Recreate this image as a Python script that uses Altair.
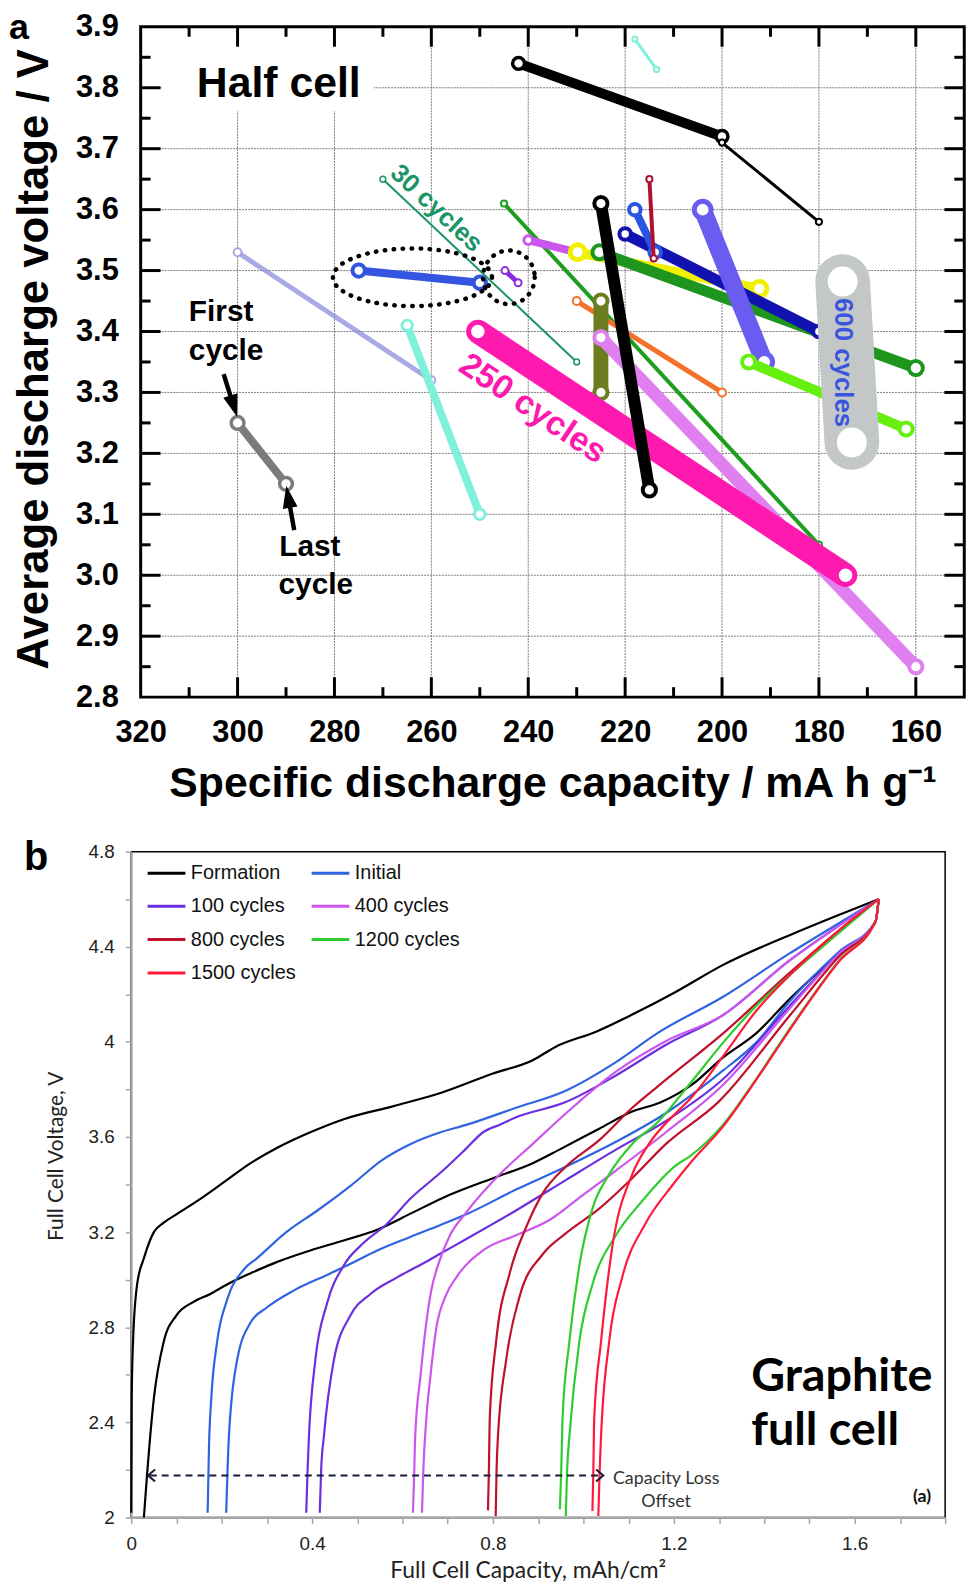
import math
import altair as alt
import pandas as pd

# ====================== Panel a : half cell ======================
SERIES_A = ["gray", "periwinkle", "aqua", "teal", "green_thin", "orange", "olive",
            "violet", "magenta", "orchid", "yellow", "green_thick", "navy", "blue_mid",
            "dark_red", "slate", "chartreuse", "black_drop", "black_top", "black_tail",
            "cyan_top", "blue_pair", "purple_pair"]
CAP_FIRST = [300, 300, 265, 270, 245, 230, 225, 225, 250.4, 240, 229.8, 225.3, 220, 218,
             215, 204, 194.5, 225, 242, 200, 218, 275, 244.8]
VOLT_FIRST = [3.25, 3.53, 3.41, 3.65, 3.61, 3.45, 3.45, 3.39, 3.40, 3.55, 3.53, 3.53, 3.56, 3.60,
              3.65, 3.60, 3.35, 3.61, 3.84, 3.71, 3.88, 3.50, 3.50]
CAP_LAST = [290, 260, 250, 230, 180, 200, 225, 160, 174.5, 230, 192.3, 160, 180, 213.8,
            214.1, 191.3, 162, 215, 200, 180, 213.5, 250, 242.1]
VOLT_LAST = [3.15, 3.32, 3.10, 3.35, 3.05, 3.30, 3.30, 2.85, 3.00, 3.53, 3.47, 3.34, 3.40, 3.53,
             3.52, 3.35, 3.24, 3.14, 3.72, 3.58, 3.83, 3.48, 3.48]

X_RANGE_A = [320, 150]
Y_RANGE_A = [3.9, 2.8]
X_LABELS_A = [320, 300, 280, 260, 240, 220, 200, 180, 160]
Y_LABELS_A = [3.9, 3.8, 3.7, 3.6, 3.5, 3.4, 3.3, 3.2, 3.1, 3.0, 2.9, 2.8]
X_MAJOR_A = [300, 280, 260, 240, 220, 200, 180, 160]
X_MINOR_A = [310, 290, 270, 250, 230, 210, 190, 170]
Y_MAJOR_A = [3.8, 3.7, 3.6, 3.5, 3.4, 3.3, 3.2, 3.1, 3.0, 2.9]
Y_MINOR_A = [3.85, 3.75, 3.65, 3.55, 3.45, 3.35, 3.25, 3.15, 3.05, 2.95, 2.85]

HALF_BOX_CAP = [315.6, 271.9]
HALF_BOX_VOLT = [3.871, 3.761]
PILL_CAP = [175.1, 173.2]
PILL_VOLT = [3.482, 3.218]
ELLIPSE_CAP = [263.9, 244.0]
ELLIPSE_VOLT = [3.489, 3.489]

LABEL_A_TEXT = ["Half cell", "30 cycles", "250 cycles", "600 cycles", "First", "cycle", "Last", "cycle"]
LABEL_A_CAP = [308.4, 258.97, 239.1, 175.1, 310.05, 310.05, 291.4, 291.55]
LABEL_A_VOLT = [3.785, 3.602, 3.273, 3.349, 3.418, 3.354, 3.031, 2.970]

ARROW_TAIL_CAP = [302.87, 288.31]
ARROW_TAIL_VOLT = [3.330, 3.074]
ARROW_NECK_CAP = [300.84, 289.52]
ARROW_NECK_VOLT = [3.278, 3.128]
ARROW_TIP_CAP = [300.1, 289.95]
ARROW_TIP_VOLT = [3.260, 3.147]

# styles: colour, line width, marker outer radius, marker stroke width, opacity
STYLE_A = {
    "gray": ("#7b7b7b", 8, 9, 3.5, 1),
    "periwinkle": ("#8c8cdc", 5, 5.5, 2, 0.75),
    "aqua": ("#7ff0da", 8, 7.5, 3, 1),
    "teal": ("#1a9468", 2, 4, 1.5, 1),
    "green_thin": ("#1e9e1e", 4, 4.5, 2, 1),
    "orange": ("#f5702a", 5, 5.5, 2, 1),
    "olive": ("#6b7d1e", 15, 9.5, 4, 1),
    "violet": ("#e07ff0", 13, 9.5, 4, 1),
    "magenta": ("#ff1aaf", 24, 13, 5, 1),
    "orchid": ("#cc55ee", 8, 6.5, 3, 1),
    "yellow": ("#f0f000", 10, 11, 5, 1),
    "green_thick": ("#1e961e", 11, 10, 4, 1),
    "navy": ("#1212b0", 11, 8.5, 4, 1),
    "blue_mid": ("#2a55e0", 8, 8.5, 4, 1),
    "dark_red": ("#b01030", 4, 4.5, 2, 1),
    "slate": ("#6a5cf0", 18, 12, 5, 1),
    "chartreuse": ("#66f010", 10, 9.5, 4, 1),
    "black_drop": ("#000000", 12, 9.5, 4, 1),
    "black_top": ("#000000", 10, 8.5, 3.5, 1),
    "black_tail": ("#000000", 3, 4.5, 2, 1),
    "cyan_top": ("#80f0d8", 3, 4, 2, 1),
    "blue_pair": ("#3355e0", 8, 9, 4, 1),
    "purple_pair": ("#8a2be2", 5, 5, 2, 1),
}

# panel a scale: 4.875 px per unit; the plot origin is shared with panel b, so the
# domain starts a little before 320 and the frame is drawn from 320.
PX_PER_UNIT = 4.875
LEFT_OFF = 9.5
X_START = X_RANGE_A[0] + LEFT_OFF / PX_PER_UNIT
W_A = (X_START - X_RANGE_A[1]) * PX_PER_UNIT
H_A = 674.5
XS_A = alt.Scale(domain=[X_START, X_RANGE_A[1]], nice=False, zero=False)
YS_A = alt.Scale(domain=[Y_RANGE_A[1], Y_RANGE_A[0]], nice=False, zero=False)
FONT = "Liberation Sans"
GRID = dict(color="#7d7d7d", strokeWidth=1, strokeDash=[2, 1])

AXIS_X_A = alt.Axis(values=X_LABELS_A, format="d", grid=False, ticks=False, tickSize=0, domain=False,
                    labelFont=FONT, labelFontWeight="bold", labelFontSize=31, labelColor="black",
                    labelPadding=21, labelFlush=False, labelOverlap=False,
                    title="Specific discharge capacity / mA h g\u207b\u00b9", titleFont=FONT,
                    titleFontWeight="bold", titleFontSize=43, titleColor="black",
                    titleBaseline="alphabetic", titleX=W_A / 2 + LEFT_OFF / 2, titleY=100)
AXIS_Y_A = alt.Axis(values=Y_LABELS_A, format=".1f", grid=False, ticks=False, tickSize=0, domain=False,
                    labelFont=FONT, labelFontWeight="bold", labelFontSize=31, labelColor="black",
                    labelPadding=13, labelOverlap=False, title="Average discharge voltage / V",
                    titleFont=FONT, titleFontWeight="bold", titleFontSize=44, titleColor="black",
                    titleAngle=270, titleBaseline="alphabetic", titleX=-84, titleY=334)


def XA(f):
    return alt.X(f + ":Q", scale=XS_A, axis=AXIS_X_A)


def YA(f):
    return alt.Y(f + ":Q", scale=YS_A, axis=AXIS_Y_A)


one = pd.DataFrame({"k": [0]})
layers_a = []

# dotted grid
vg = pd.DataFrame({"v": X_MAJOR_A})
layers_a.append(alt.Chart(vg).mark_rule(**GRID).encode(x=XA("v"), y=alt.value(0), y2=alt.value(H_A)))
hg = pd.DataFrame({"v": Y_MAJOR_A, "x1": X_RANGE_A[0], "x2": X_RANGE_A[1]})
layers_a.append(alt.Chart(hg).mark_rule(**GRID).encode(y=YA("v"), x=XA("x1"), x2="x2:Q"))

box = pd.DataFrame({"x1": [HALF_BOX_CAP[0]], "x2": [HALF_BOX_CAP[1]],
                    "y1": [HALF_BOX_VOLT[0]], "y2": [HALF_BOX_VOLT[1]]})
layers_a.append(alt.Chart(box).mark_rect(fill="white").encode(
    x=XA("x1"), x2="x2:Q", y=YA("y1"), y2="y2:Q"))

rows = []
for s, c0, v0, c1, v1 in zip(SERIES_A, CAP_FIRST, VOLT_FIRST, CAP_LAST, VOLT_LAST):
    rows.append({"series": s, "k": 0, "cap": c0, "volt": v0})
    rows.append({"series": s, "k": 1, "cap": c1, "volt": v1})
seg = pd.DataFrame(rows)
base_seg = alt.Chart(seg)
for s in SERIES_A:
    color, lw, R, sw, op = STYLE_A[s]
    sub = base_seg.transform_filter(alt.datum.series == s)
    layers_a.append(sub.mark_line(color=color, strokeWidth=lw, opacity=op).encode(
        x=XA("cap"), y=YA("volt"), order="k:Q"))
    r = R - sw / 2.0
    layers_a.append(sub.mark_point(shape="circle", filled=True, fill="white", stroke=color,
                                   strokeWidth=sw, size=math.pi * r * r, opacity=1,
                                   strokeOpacity=op).encode(x=XA("cap"), y=YA("volt")))

# grey "600 cycles" capsule
pill = pd.DataFrame({"k": [0, 1], "cap": PILL_CAP, "volt": PILL_VOLT})
layers_a.append(alt.Chart(pill).mark_line(color="#c3c7c7", strokeWidth=55, strokeCap="round").encode(
    x=XA("cap"), y=YA("volt"), order="k:Q"))
layers_a.append(alt.Chart(pill).mark_point(shape="circle", filled=True, fill="white", strokeWidth=0,
                                           size=math.pi * 17 * 17, opacity=1).encode(
    x=XA("cap"), y=YA("volt")))


def ellipse_path(b):
    k = 0.5523
    return ("M1,0 C1,{kb:.4f} {k:.4f},{b:.4f} 0,{b:.4f} C{nk:.4f},{b:.4f} -1,{kb:.4f} -1,0 "
            "C-1,{nkb:.4f} {nk:.4f},{nb:.4f} 0,{nb:.4f} C{k:.4f},{nb:.4f} 1,{nkb:.4f} 1,0 Z").format(
        k=k, nk=-k, b=b, nb=-b, kb=k * b, nkb=-k * b)


ell = pd.DataFrame({"cap": ELLIPSE_CAP, "volt": ELLIPSE_VOLT, "i": [0, 1]})
for i, (hw, hh) in enumerate([(80, 29), (26, 27)]):
    layers_a.append(alt.Chart(ell).transform_filter(alt.datum.i == i).mark_point(
        shape=ellipse_path(hh / hw), filled=False, stroke="black", strokeWidth=4.5,
        strokeDash=[0.5, 8.5], strokeCap="round", size=(2 * hw) ** 2, opacity=1).encode(
        x=XA("cap"), y=YA("volt")))

# annotation texts
lab = pd.DataFrame({"t": LABEL_A_TEXT, "cap": LABEL_A_CAP, "volt": LABEL_A_VOLT,
                    "i": list(range(len(LABEL_A_TEXT)))})
TEXT_STYLE_A = [
    dict(fontSize=43, color="black", align="left", baseline="alphabetic"),
    dict(fontSize=26, color="#1a9468", angle=43),
    dict(fontSize=34, color="#ff1aaf", angle=34),
    dict(fontSize=26, color="#3a55dd", angle=90),
    dict(fontSize=30, color="black", align="left", baseline="alphabetic"),
    dict(fontSize=30, color="black", align="left", baseline="alphabetic"),
    dict(fontSize=30, color="black", align="left", baseline="alphabetic"),
    dict(fontSize=30, color="black", align="left", baseline="alphabetic"),
]
for i, st in enumerate(TEXT_STYLE_A):
    layers_a.append(alt.Chart(lab).transform_filter(alt.datum.i == i).mark_text(
        font=FONT, fontWeight="bold", **st).encode(x=XA("cap"), y=YA("volt"), text="t:N"))

# arrows to first / last cycle
arr = pd.DataFrame({"c0": ARROW_TAIL_CAP, "v0": ARROW_TAIL_VOLT, "c1": ARROW_NECK_CAP,
                    "v1": ARROW_NECK_VOLT, "ct": ARROW_TIP_CAP, "vt": ARROW_TIP_VOLT, "i": [0, 1]})
layers_a.append(alt.Chart(arr).mark_rule(color="black", strokeWidth=4.5).encode(
    x=XA("c0"), y=YA("v0"), x2="c1:Q", y2="v1:Q"))
for i, ang in enumerate([162.6, 349.9]):
    layers_a.append(alt.Chart(arr).transform_filter(alt.datum.i == i).mark_point(
        shape="M0,0 L0.5,1.5 L-0.5,1.5 Z", filled=True, fill="black", strokeWidth=0,
        size=900, angle=ang, opacity=1).encode(x=XA("ct"), y=YA("vt")))

# inward ticks on all four sides
for vals, ln in [(X_MAJOR_A, 20), (X_MINOR_A, 10)]:
    d = pd.DataFrame({"v": vals})
    layers_a.append(alt.Chart(d).mark_rule(color="black", strokeWidth=3).encode(
        x=XA("v"), y=alt.value(H_A), y2=alt.value(H_A - ln)))
    layers_a.append(alt.Chart(d).mark_rule(color="black", strokeWidth=3).encode(
        x=XA("v"), y=alt.value(0), y2=alt.value(ln)))
for vals, ln in [(Y_MAJOR_A, 20), (Y_MINOR_A, 10)]:
    d = pd.DataFrame({"v": vals})
    layers_a.append(alt.Chart(d).mark_rule(color="black", strokeWidth=3).encode(
        y=YA("v"), x=alt.value(LEFT_OFF), x2=alt.value(LEFT_OFF + ln)))
    layers_a.append(alt.Chart(d).mark_rule(color="black", strokeWidth=3).encode(
        y=YA("v"), x=alt.value(W_A), x2=alt.value(W_A - ln)))

frame = pd.DataFrame({"x1": [X_RANGE_A[0]], "x2": [X_RANGE_A[1]], "y1": [Y_RANGE_A[0]], "y2": [Y_RANGE_A[1]]})
layers_a.append(alt.Chart(frame).mark_rect(fillOpacity=0, stroke="black", strokeWidth=3).encode(
    x=XA("x1"), x2="x2:Q", y=YA("y1"), y2="y2:Q"))
layers_a.append(alt.Chart(one).mark_text(text="a", font=FONT, fontWeight="bold", fontSize=36,
                                         align="left", baseline="alphabetic", color="black").encode(
    x=alt.value(-123), y=alt.value(12.5)))

panel_a = alt.layer(*layers_a).properties(width=W_A, height=H_A,
                                          view=alt.ViewBackground(stroke="transparent"))

# ====================== Panel b : graphite full cell ======================
SERIES_B = ["Formation", "Initial", "100 cycles", "400 cycles", "800 cycles", "1200 cycles", "1500 cycles"]
COLORS_B = ["#000000", "#2f64e0", "#6a2fe0", "#cc55ee", "#c0102a", "#2ecc2e", "#ff1a3a"]

FORM_UP_CAP = [0.000, 0.001, 0.004, 0.013, 0.028, 0.050, 0.072, 0.100, 0.153, 0.205, 0.264, 0.323,
               0.396, 0.470, 0.580, 0.684, 0.800, 0.888, 0.939, 1.028, 1.108, 1.204, 1.309, 1.456,
               1.566, 1.653]
FORM_UP_V = [2.02, 2.50, 2.74, 2.98, 3.09, 3.20, 3.24, 3.275, 3.34, 3.41, 3.49, 3.555, 3.62, 3.675,
             3.73, 3.785, 3.867, 3.923, 3.98, 4.043, 4.115, 4.21, 4.324, 4.449, 4.535, 4.60]
FORM_LO_CAP = [0.028, 0.035, 0.050, 0.072, 0.100, 0.138, 0.175, 0.212, 0.264, 0.323, 0.396, 0.470,
               0.544, 0.620, 0.690, 0.800, 0.888, 0.947, 1.035, 1.108, 1.170, 1.240, 1.309, 1.382,
               1.456, 1.566, 1.646, 1.653]
FORM_LO_V = [2.00, 2.18, 2.50, 2.74, 2.85, 2.907, 2.94, 2.98, 3.027, 3.075, 3.123, 3.165, 3.21, 3.28,
             3.345, 3.427, 3.49, 3.547, 3.635, 3.707, 3.745, 3.82, 3.935, 4.036, 4.18, 4.372, 4.506, 4.60]
INIT_UP_CAP = [0.169, 0.172, 0.177, 0.190, 0.212, 0.249, 0.278, 0.345, 0.411, 0.485, 0.558, 0.617,
               0.684, 0.741, 0.851, 0.961, 1.072, 1.163, 1.309, 1.456, 1.566, 1.653]
INIT_UP_V = [2.02, 2.30, 2.50, 2.74, 2.915, 3.043, 3.09, 3.203, 3.29, 3.395, 3.507, 3.57, 3.62, 3.651,
             3.723, 3.795, 3.915, 4.036, 4.19, 4.372, 4.50, 4.60]
INIT_LO_CAP = [0.210, 0.213, 0.216, 0.234, 0.264, 0.300, 0.360, 0.433, 0.485, 0.544, 0.617, 0.684,
               0.741, 0.851, 0.961, 1.072, 1.182, 1.309, 1.382, 1.456, 1.566, 1.646, 1.653]
INIT_LO_V = [2.02, 2.20, 2.34, 2.66, 2.82, 2.883, 2.955, 3.02, 3.067, 3.123, 3.18, 3.23, 3.275, 3.379,
             3.475, 3.58, 3.70, 3.88, 3.997, 4.17, 4.38, 4.506, 4.60]
C100_UP_CAP = [0.387, 0.390, 0.393, 0.407, 0.433, 0.470, 0.514, 0.566, 0.617, 0.690, 0.740, 0.778,
               0.815, 0.851, 0.961, 1.072, 1.182, 1.309, 1.456, 1.566, 1.653]
C100_UP_V = [2.02, 2.20, 2.34, 2.66, 2.90, 3.06, 3.155, 3.235, 3.34, 3.46, 3.55, 3.62, 3.652, 3.683,
             3.747, 3.859, 3.987, 4.113, 4.343, 4.49, 4.60]
C100_LO_CAP = [0.417, 0.420, 0.426, 0.448, 0.485, 0.529, 0.588, 0.647, 0.684, 0.741, 0.851, 0.961,
               1.072, 1.182, 1.309, 1.456, 1.566, 1.646, 1.653]
C100_LO_V = [2.02, 2.20, 2.34, 2.66, 2.85, 2.94, 3.01, 3.07, 3.11, 3.171, 3.291, 3.419, 3.547, 3.667,
             3.844, 4.151, 4.372, 4.506, 4.60]
C400_UP_CAP = [0.623, 0.626, 0.628, 0.640, 0.650, 0.663, 0.680, 0.705, 0.741, 0.815, 0.888, 0.961,
               1.072, 1.182, 1.309, 1.456, 1.566, 1.653]
C400_UP_V = [2.02, 2.20, 2.34, 2.60, 2.78, 2.95, 3.07, 3.187, 3.283, 3.443, 3.571, 3.699, 3.875, 4.003,
             4.113, 4.343, 4.49, 4.60]
C400_LO_CAP = [0.643, 0.646, 0.652, 0.662, 0.675, 0.695, 0.719, 0.778, 0.851, 0.925, 0.998, 1.072,
               1.182, 1.309, 1.456, 1.566, 1.646, 1.653]
C400_LO_V = [2.02, 2.20, 2.40, 2.60, 2.80, 2.93, 3.01, 3.123, 3.187, 3.251, 3.355, 3.459, 3.619, 3.82,
             4.14, 4.372, 4.506, 4.60]
C800_UP_CAP = [0.789, 0.791, 0.793, 0.807, 0.837, 0.873, 0.910, 0.961, 1.035, 1.108, 1.182, 1.309,
               1.456, 1.566, 1.653]
C800_UP_V = [2.03, 2.20, 2.42, 2.74, 3.027, 3.219, 3.363, 3.475, 3.587, 3.723, 3.84, 4.036, 4.29, 4.47, 4.60]
C800_LO_CAP = [0.806, 0.808, 0.811, 0.829, 0.859, 0.910, 0.961, 1.035, 1.108, 1.182, 1.300, 1.456,
               1.566, 1.646, 1.653]
C800_LO_V = [2.006, 2.20, 2.34, 2.66, 2.93, 3.107, 3.195, 3.299, 3.427, 3.57, 3.75, 4.11, 4.36, 4.506, 4.60]
C1200_UP_CAP = [0.948, 0.951, 0.954, 0.969, 0.991, 1.020, 1.057, 1.108, 1.163, 1.236, 1.309, 1.382,
                1.456, 1.566, 1.653]
C1200_UP_V = [2.035, 2.20, 2.42, 2.74, 3.059, 3.299, 3.443, 3.571, 3.66, 3.825, 3.997, 4.151, 4.28, 4.46, 4.60]
C1200_LO_CAP = [0.961, 0.964, 0.969, 0.991, 1.020, 1.072, 1.130, 1.204, 1.236, 1.309, 1.382, 1.456,
                1.566, 1.646, 1.653]
C1200_LO_V = [2.006, 2.20, 2.34, 2.74, 2.98, 3.187, 3.331, 3.48, 3.52, 3.652, 3.844, 4.055, 4.343, 4.506, 4.60]
C1500_UP_CAP = [1.020, 1.022, 1.024, 1.039, 1.064, 1.108, 1.145, 1.204, 1.236, 1.309, 1.382, 1.456,
                1.566, 1.653]
C1500_UP_V = [2.027, 2.20, 2.42, 2.74, 3.139, 3.443, 3.571, 3.70, 3.76, 3.94, 4.13, 4.28, 4.47, 4.60]
C1500_LO_CAP = [1.033, 1.036, 1.039, 1.057, 1.086, 1.137, 1.196, 1.236, 1.309, 1.382, 1.456, 1.566,
                1.646, 1.653]
C1500_LO_V = [2.006, 2.20, 2.34, 2.74, 3.011, 3.235, 3.395, 3.49, 3.645, 3.84, 4.05, 4.34, 4.506, 4.60]

CURVES_B = [
    ("Formation", "up", FORM_UP_CAP, FORM_UP_V), ("Formation", "lo", FORM_LO_CAP, FORM_LO_V),
    ("Initial", "up", INIT_UP_CAP, INIT_UP_V), ("Initial", "lo", INIT_LO_CAP, INIT_LO_V),
    ("100 cycles", "up", C100_UP_CAP, C100_UP_V), ("100 cycles", "lo", C100_LO_CAP, C100_LO_V),
    ("400 cycles", "up", C400_UP_CAP, C400_UP_V), ("400 cycles", "lo", C400_LO_CAP, C400_LO_V),
    ("800 cycles", "up", C800_UP_CAP, C800_UP_V), ("800 cycles", "lo", C800_LO_CAP, C800_LO_V),
    ("1200 cycles", "up", C1200_UP_CAP, C1200_UP_V), ("1200 cycles", "lo", C1200_LO_CAP, C1200_LO_V),
    ("1500 cycles", "up", C1500_UP_CAP, C1500_UP_V), ("1500 cycles", "lo", C1500_LO_CAP, C1500_LO_V),
]

X_TICKS_B = [0, 0.1, 0.2, 0.3, 0.4, 0.5, 0.6, 0.7, 0.8, 0.9, 1.0, 1.1, 1.2, 1.3, 1.4, 1.5, 1.6, 1.7, 1.8]
Y_TICKS_B = [2, 2.2, 2.4, 2.6, 2.8, 3, 3.2, 3.4, 3.6, 3.8, 4, 4.2, 4.4, 4.6, 4.8]
X_LABELS_B = ["0", "0.4", "0.8", "1.2", "1.6"]
Y_LABELS_B = ["2", "2.4", "2.8", "3.2", "3.6", "4", "4.4", "4.8"]

ARROW_B_CAP = [0.037, 1.044]
ARROW_B_VOLT = 2.177
TEXT_B = ["Capacity Loss", "Offset", "(a)", "Graphite", "full cell"]
TEXT_B_CAP = [1.183, 1.183, 1.749, 1.371, 1.371]
TEXT_B_VOLT = [2.163, 2.066, 2.086, 2.531, 2.303]

W_B, H_B = 819, 670
XS_B = alt.Scale(domain=[0, 1.8], nice=False, zero=False)
YS_B = alt.Scale(domain=[2, 4.8], nice=False, zero=False)
GREY = "#a6a6a6"


def label_expr(lst):
    return "indexof([" + ",".join("'%s'" % s for s in lst) + "], datum.label) >= 0 ? datum.label : ''"


AXIS_X_B = alt.Axis(values=X_TICKS_B, format="~g", labelExpr=label_expr(X_LABELS_B), grid=False,
                    domainColor=GREY, domainWidth=2, tickColor=GREY, tickWidth=1.5, tickSize=6,
                    labelFont=FONT, labelFontSize=19, labelColor="#222222", labelPadding=11,
                    labelFlush=False, labelOverlap=False, title="Full Cell Capacity, mAh/cm\u00b2",
                    titleFont="Lato", titleFontSize=23, titleFontWeight="normal", titleColor="#222222",
                    titleBaseline="alphabetic", titleX=399, titleY=60)
AXIS_Y_B = alt.Axis(values=Y_TICKS_B, format="~g", labelExpr=label_expr(Y_LABELS_B), grid=False,
                    domainColor=GREY, domainWidth=2, tickColor=GREY, tickWidth=1.5, tickSize=6,
                    labelFont=FONT, labelFontSize=19, labelColor="#222222", labelPadding=11,
                    labelOverlap=False, title="Full Cell Voltage, V", titleFont="Lato",
                    titleFontSize=21, titleFontWeight="normal", titleColor="#222222", titleAngle=270,
                    titleBaseline="alphabetic", titleX=-69.3, titleY=306)


def XB(f):
    return alt.X(f + ":Q", scale=XS_B, axis=AXIS_X_B)


def YB(f):
    return alt.Y(f + ":Q", scale=YS_B, axis=AXIS_Y_B)


rows_b = []
for name, part, caps, volts in CURVES_B:
    for j, (c, v) in enumerate(zip(caps, volts)):
        rows_b.append({"series": name, "curve": name + part, "j": j, "cap": c, "volt": v})
curves = pd.DataFrame(rows_b)

lines_b = alt.Chart(curves).mark_line(strokeWidth=2.2, interpolate="monotone").encode(
    x=XB("cap"), y=YB("volt"),
    color=alt.Color("series:N", scale=alt.Scale(domain=SERIES_B, range=COLORS_B), sort=SERIES_B,
                    legend=alt.Legend(title=None, orient="none", legendX=15, legendY=1, columns=2,
                                      direction="horizontal",
                                      symbolType="stroke", symbolSize=1444, symbolStrokeWidth=3,
                                      labelFont=FONT, labelFontSize=20, labelColor="#111111",
                                      labelOffset=4, columnPadding=9, rowPadding=2.5, padding=0)),
    detail="curve:N",
    order="j:Q",
)

darr = pd.DataFrame({"c0": [ARROW_B_CAP[0] + 0.004], "c1": [ARROW_B_CAP[1] - 0.004], "v": [ARROW_B_VOLT]})
arrow_line = alt.Chart(darr).mark_rule(color="#1a1a3a", strokeWidth=2, strokeDash=[7, 5]).encode(
    x=XB("c0"), x2="c1:Q", y=YB("v"))
heads = pd.DataFrame({"cap": ARROW_B_CAP, "v": [ARROW_B_VOLT, ARROW_B_VOLT], "i": [0, 1]})
head_l = alt.Chart(heads).transform_filter(alt.datum.i == 0).mark_point(
    shape="M1.2,-1 L0,0 L1.2,1", filled=False, stroke="#1a1a3a", strokeWidth=2, size=144, opacity=1).encode(
    x=XB("cap"), y=YB("v"))
head_r = alt.Chart(heads).transform_filter(alt.datum.i == 1).mark_point(
    shape="M-1.2,-1 L0,0 L-1.2,1", filled=False, stroke="#1a1a3a", strokeWidth=2, size=144, opacity=1).encode(
    x=XB("cap"), y=YB("v"))

tb = pd.DataFrame({"t": TEXT_B, "cap": TEXT_B_CAP, "v": TEXT_B_VOLT, "i": list(range(len(TEXT_B)))})
TEXT_STYLE_B = [
    dict(font="Lato", fontSize=18, color="#333333"),
    dict(font="Lato", fontSize=18, color="#333333"),
    dict(font="Lato", fontSize=18, fontWeight="bold", color="#111111"),
    dict(font="Lato", fontSize=47, fontWeight="bold", color="black", align="left", baseline="alphabetic"),
    dict(font="Lato", fontSize=47, fontWeight="bold", color="black", align="left", baseline="alphabetic"),
]
texts_b = []
for i, st in enumerate(TEXT_STYLE_B):
    texts_b.append(alt.Chart(tb).transform_filter(alt.datum.i == i).mark_text(**st).encode(
        x=XB("cap"), y=YB("v"), text="t:N"))

b_letter = alt.Chart(one).mark_text(text="b", font=FONT, fontWeight="bold", fontSize=40, align="left",
                                    baseline="alphabetic", color="black").encode(
    x=alt.value(-108), y=alt.value(18))

panel_b = alt.layer(lines_b, arrow_line, head_l, head_r, *texts_b, b_letter).properties(
    width=W_B, height=H_B, view=alt.ViewBackground(stroke="black", strokeWidth=1.5))

chart = alt.concat(panel_a, panel_b, columns=1, spacing=31,
                   padding={"left": 0, "top": -3, "right": 0, "bottom": 0}).resolve_legend(
    color="independent").configure(background="white")

chart.save("out.html", embed_options={"renderer": "svg", "actions": False})
